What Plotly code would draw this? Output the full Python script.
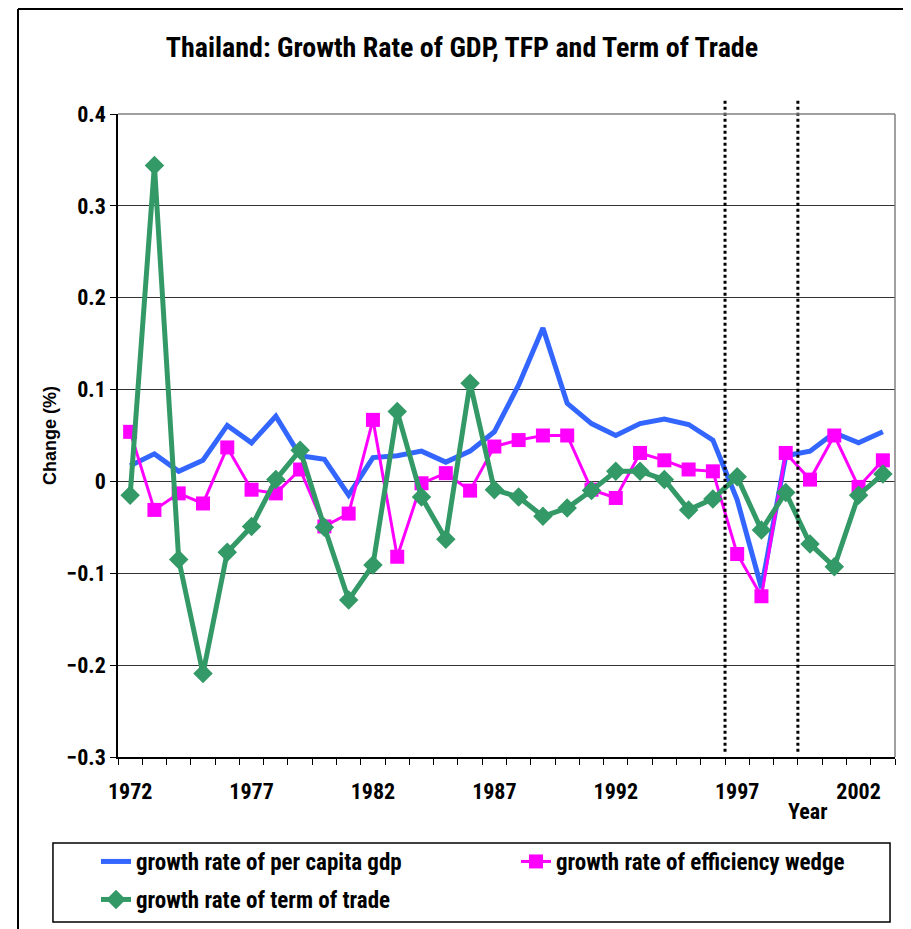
import plotly.graph_objects as go

# data
years = list(range(1972, 2004))
gdp_growth = [0.017, 0.030, 0.011, 0.023, 0.061, 0.042, 0.071, 0.028, 0.024, -0.015,
              0.026, 0.028, 0.033, 0.021, 0.033, 0.054, 0.105, 0.167, 0.085, 0.063,
              0.050, 0.063, 0.068, 0.062, 0.045, -0.020, -0.116, 0.028, 0.033, 0.053,
              0.042, 0.054]
efficiency_growth = [0.054, -0.031, -0.013, -0.024, 0.037, -0.009, -0.013, 0.013, -0.049, -0.035,
                     0.067, -0.082, -0.002, 0.009, -0.010, 0.038, 0.045, 0.050, 0.050, -0.009,
                     -0.018, 0.031, 0.023, 0.013, 0.011, -0.079, -0.125, 0.031, 0.002, 0.050,
                     -0.006, 0.023]
tot_growth = [-0.015, 0.344, -0.085, -0.209, -0.077, -0.049, 0.002, 0.034, -0.050, -0.129,
              -0.091, 0.076, -0.017, -0.063, 0.107, -0.009, -0.017, -0.038, -0.029, -0.010,
              0.011, 0.011, 0.002, -0.031, -0.019, 0.005, -0.053, -0.012, -0.068, -0.093,
              -0.015, 0.008]
label_years = [1972, 1977, 1982, 1987, 1992, 1997, 2002]
crisis_marks = [1996.5, 1999.5]

FONT = "Roboto Condensed, Liberation Sans Narrow, Arial Narrow, Liberation Sans, Arial"
W, H = 903, 921  # page body adds an 8px margin

fig = go.Figure()

fig.add_trace(go.Scatter(
    x=years, y=gdp_growth, mode="lines",
    name="growth rate of per capita gdp",
    line=dict(color="#3366FF", width=5),
    showlegend=True, legend="legend"
))
fig.add_trace(go.Scatter(
    x=years, y=efficiency_growth, mode="lines+markers",
    name="growth rate of efficiency wedge",
    line=dict(color="#FF00FF", width=3),
    marker=dict(symbol="square", size=14, color="#FF00FF"),
    showlegend=True, legend="legend2"
))
fig.add_trace(go.Scatter(
    x=years, y=tot_growth, mode="lines+markers",
    name="growth rate of term of trade",
    line=dict(color="#339966", width=5),
    marker=dict(symbol="diamond", size=15, color="#339966"),
    showlegend=True, legend="legend3"
))

# dotted crisis markers
for xv in crisis_marks:
    fig.add_shape(type="line", xref="x", yref="paper", x0=xv, x1=xv, y0=0.008, y1=1.025,
                  line=dict(color="black", width=3, dash="dot"))

# outer chart frame (left, right, top)
frame = dict(color="black", width=2)
fig.add_shape(type="line", xref="paper", yref="paper", x0=-0.1287, x1=-0.1287, y0=-0.5, y1=1.1633, line=frame)
fig.add_shape(type="line", xref="paper", yref="paper", x0=1.0148, x1=1.0148, y0=-0.5, y1=1.1633, line=frame)
fig.add_shape(type="line", xref="paper", yref="paper", x0=-0.1287, x1=1.0148, y0=1.1633, y1=1.1633, line=frame)
# legend box
fig.add_shape(type="rect", xref="paper", yref="paper", x0=-0.0837, x1=0.9936, y0=-0.2566, y1=-0.1337,
              line=dict(color="black", width=1.5))

# plot area border on top and right (grey)
fig.add_shape(type="line", xref="paper", yref="paper", x0=1, x1=1, y0=0, y1=1,
              line=dict(color="#808080", width=1.5))
fig.add_shape(type="line", xref="paper", yref="paper", x0=0, x1=1, y0=1, y1=1,
              line=dict(color="#808080", width=1.5))

fig.add_annotation(text="Year", xref="x", yref="paper", x=1999.9, y=-0.0855,
                   xanchor="center", yanchor="middle", showarrow=False,
                   font=dict(family=FONT, size=22, color="black", weight=700))

legend_font = dict(family=FONT, size=23, color="black", weight=700)

fig.update_layout(
    width=W, height=H,
    margin=dict(l=110, r=16, t=106, b=172),
    paper_bgcolor="white", plot_bgcolor="white",
    showlegend=True,
    title=dict(text="Thailand: Growth Rate of GDP, TFP and Term of Trade",
               xref="container", x=454 / W, y=1 - 39 / H,
               xanchor="center", yanchor="middle",
               font=dict(family=FONT, size=28, color="black", weight=700)),
    xaxis=dict(
        range=[1971.5, 2003.5], tickmode="array", tickvals=label_years,
        ticks="", showgrid=False, showline=True, linecolor="black", linewidth=1.5,
        ticklabelstandoff=14, automargin=False,
        tickfont=dict(family=FONT, size=22, color="black", weight=700),
        minor=dict(tickmode="linear", tick0=1971.5, dtick=1, ticks="outside",
                   ticklen=6, tickcolor="black", showgrid=False)
    ),
    yaxis=dict(
        range=[-0.3, 0.4], dtick=0.1, ticks="outside", ticklen=6,
        tickcolor="black", showline=True, linecolor="black", linewidth=1.5,
        showgrid=True, gridcolor="#333333", gridwidth=1, zeroline=False,
        automargin=False,
        tickfont=dict(family=FONT, size=22, color="black", weight=700),
        title=dict(text="Change (%)", standoff=5,
                   font=dict(family="Liberation Sans, Arial", size=18, color="black", weight=700))
    ),
    legend=dict(orientation="h", xref="container", yref="container",
                x=88 / W, y=1 - 832 / H, xanchor="left", yanchor="top",
                bgcolor="rgba(0,0,0,0)", font=legend_font),
    legend2=dict(orientation="h", xref="container", yref="container",
                 x=508 / W, y=1 - 832 / H, xanchor="left", yanchor="top",
                 bgcolor="rgba(0,0,0,0)", font=legend_font),
    legend3=dict(orientation="h", xref="container", yref="container",
                 x=88 / W, y=1 - 870 / H, xanchor="left", yanchor="top",
                 bgcolor="rgba(0,0,0,0)", font=legend_font),
)

fig.write_html("out.html")
